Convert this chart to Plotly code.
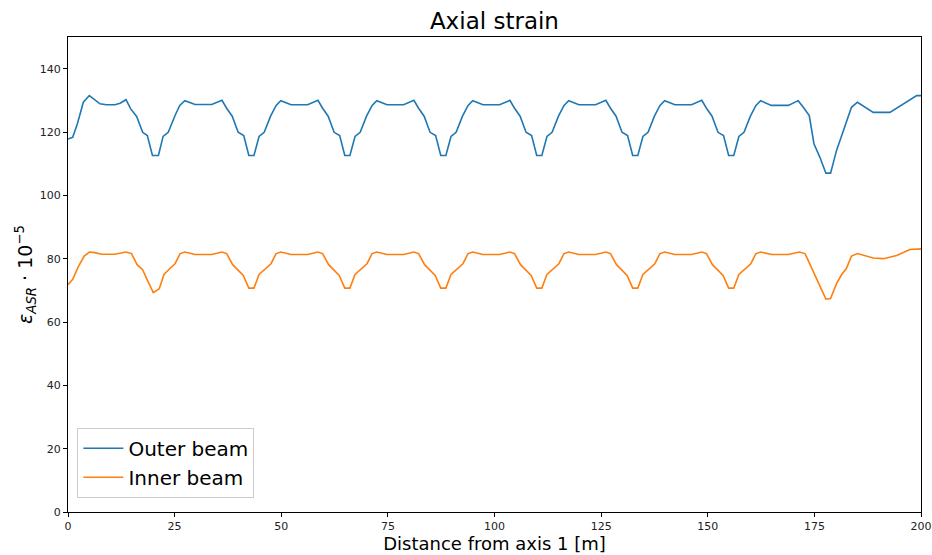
import plotly.graph_objects as go

outer_x = [0.0, 1.1, 2.2, 3.6, 5.0, 6.3, 7.5, 9.0, 11.0, 12.2, 13.6,
           14.7, 16.1, 17.5, 18.6, 19.8, 21.2, 22.3, 23.5, 25.1, 26.2, 27.4, 29.8, 33.7, 36.1,
           37.2, 38.5, 39.9, 41.2, 42.4, 43.6, 44.8, 46.0, 47.5, 48.8, 49.9, 52.3, 56.2, 58.6,
           59.7, 61.0, 62.4, 63.7, 64.9, 66.1, 67.3, 68.5, 70.0, 71.3, 72.4, 74.8, 78.7, 81.1,
           82.2, 83.5, 84.9, 86.2, 87.4, 88.6, 89.8, 91.0, 92.5, 93.8, 94.9, 97.3, 101.2, 103.6,
           104.7, 106.0, 107.4, 108.7, 109.9, 111.1, 112.3, 113.5, 115.0, 116.3, 117.4, 119.8, 123.7, 126.1,
           127.2, 128.5, 129.9, 131.2, 132.4, 133.6, 134.8, 136.0, 137.5, 138.8, 139.9, 142.3, 146.2, 148.6,
           149.7, 151.0, 152.4, 153.7, 154.9, 156.1, 157.3, 158.5, 160.0, 161.3, 162.4, 164.9, 168.9, 171.2,
           172.4, 173.8, 174.9, 176.3, 177.7, 178.8, 180.2, 181.8, 183.7, 185.1, 188.8, 192.7, 199.0, 200.0]
outer_y = [117.8, 118.3, 122.6, 129.4, 131.5, 130.1, 128.9, 128.6, 128.6, 129.1, 130.2,
           127.3, 124.9, 119.9, 118.9, 112.6, 112.6, 118.6, 119.9, 125.2, 128.4, 129.9, 128.7, 128.7, 130.0,
           127.5, 125.0, 119.9, 118.9, 112.6, 112.6, 118.6, 119.9, 125.0, 128.4, 129.9, 128.6, 128.6, 130.0,
           127.5, 125.0, 119.9, 118.9, 112.6, 112.6, 118.6, 119.9, 125.0, 128.4, 129.9, 128.6, 128.6, 130.0,
           127.5, 125.0, 119.9, 118.9, 112.6, 112.6, 118.6, 119.9, 125.0, 128.4, 129.9, 128.6, 128.6, 130.0,
           127.5, 125.0, 119.9, 118.9, 112.6, 112.6, 118.6, 119.9, 125.0, 128.4, 129.9, 128.6, 128.6, 130.0,
           127.5, 125.0, 119.9, 118.9, 112.6, 112.6, 118.6, 119.9, 125.0, 128.4, 129.9, 128.6, 128.6, 130.0,
           127.5, 125.0, 119.9, 118.9, 112.6, 112.6, 118.6, 119.9, 125.0, 128.4, 129.9, 128.4, 128.4, 129.9,
           127.8, 125.2, 116.3, 112.0, 107.0, 107.0, 114.2, 120.5, 127.8, 129.4, 126.2, 126.2, 131.5, 131.5]

inner_x = [0.0, 1.1, 2.4, 3.8, 5.0, 6.3, 7.9, 11.0, 13.6,
           14.9, 16.2, 17.5, 18.6, 20.0, 21.4, 22.5, 23.9, 25.1, 26.3, 27.4, 29.8, 33.7, 36.1,
           37.2, 38.6, 40.0, 41.1, 42.4, 43.6, 44.8, 45.9, 47.6, 48.8, 49.9, 52.3, 56.2, 58.6,
           59.7, 61.1, 62.5, 63.6, 64.9, 66.1, 67.3, 68.4, 70.1, 71.3, 72.4, 74.8, 78.7, 81.1,
           82.2, 83.6, 85.0, 86.1, 87.4, 88.6, 89.8, 90.9, 92.6, 93.8, 94.9, 97.3, 101.2, 103.6,
           104.7, 106.1, 107.5, 108.6, 109.9, 111.1, 112.3, 113.4, 115.1, 116.3, 117.4, 119.8, 123.7, 126.1,
           127.2, 128.6, 130.0, 131.1, 132.4, 133.6, 134.8, 135.9, 137.6, 138.8, 139.9, 142.3, 146.2, 148.6,
           149.7, 151.1, 152.5, 153.6, 154.9, 156.1, 157.3, 158.4, 160.1, 161.3, 162.4, 165.0, 168.9, 171.5,
           172.8, 174.0, 175.5, 176.7, 177.7, 178.8, 180.2, 181.4, 182.5, 183.7, 185.1, 188.8, 191.2, 194.3, 197.4, 200.0]
inner_y = [71.8, 73.5, 77.4, 80.8, 82.1, 81.9, 81.4, 81.4, 82.1,
           81.6, 78.1, 76.5, 73.2, 69.3, 70.5, 75.0, 76.9, 78.4, 81.6, 82.1, 81.3, 81.3, 82.1,
           81.6, 78.1, 76.3, 74.7, 70.7, 70.7, 75.0, 76.3, 78.4, 81.6, 82.1, 81.3, 81.3, 82.1,
           81.6, 78.1, 76.3, 74.7, 70.7, 70.7, 75.0, 76.3, 78.4, 81.6, 82.1, 81.3, 81.3, 82.1,
           81.6, 78.1, 76.3, 74.7, 70.7, 70.7, 75.0, 76.3, 78.4, 81.6, 82.1, 81.3, 81.3, 82.1,
           81.6, 78.1, 76.3, 74.7, 70.7, 70.7, 75.0, 76.3, 78.4, 81.6, 82.1, 81.3, 81.3, 82.1,
           81.6, 78.1, 76.3, 74.7, 70.7, 70.7, 75.0, 76.3, 78.4, 81.6, 82.1, 81.3, 81.3, 82.1,
           81.6, 78.1, 76.3, 74.7, 70.7, 70.7, 75.0, 76.3, 78.4, 81.6, 82.1, 81.3, 81.3, 82.1,
           81.6, 78.1, 73.7, 70.1, 67.2, 67.4, 72.1, 75.0, 76.9, 80.8, 81.6, 80.2, 80.0, 81.0, 82.9, 83.1]

x_ticks = [0, 25, 50, 75, 100, 125, 150, 175, 200]
y_ticks = [0, 20, 40, 60, 80, 100, 120, 140]

fig = go.Figure()
fig.add_trace(go.Scatter(x=outer_x, y=outer_y, mode="lines", name="Outer beam",
                         line=dict(color="#1f77b4", width=1.6)))
fig.add_trace(go.Scatter(x=inner_x, y=inner_y, mode="lines", name="Inner beam",
                         line=dict(color="#ff7f0e", width=1.6)))

axis_common = dict(showgrid=False, zeroline=False, showline=True, linecolor="black",
                   linewidth=1, mirror=True, ticks="outside", ticklen=4, tickcolor="black",
                   tickfont=dict(size=11, color="#222"), automargin=False)
fig.update_layout(
    width=932, height=555,
    margin=dict(l=68, r=11, t=37, b=43),
    paper_bgcolor="white", plot_bgcolor="white",
    font=dict(family="DejaVu Sans", color="black"),
    title=dict(text="Axial strain", x=0.5305, xanchor="center", y=0.962, yanchor="middle",
               font=dict(size=23, color="black")),
    xaxis=dict(range=[0, 200], tickvals=x_ticks, title=dict(text="Distance from axis 1 [m]",
               font=dict(size=18), standoff=4), **axis_common),
    yaxis=dict(range=[0, 150], tickvals=y_ticks,
               title=dict(text="<i>ε</i><sub><i>ASR</i></sub> · 10<sup>−5</sup>",
                          font=dict(size=19), standoff=2), **axis_common),
    legend=dict(x=0.011, y=0.03, xanchor="left", yanchor="bottom",
                bgcolor="rgba(255,255,255,0.8)", bordercolor="#cccccc", borderwidth=1,
                font=dict(size=20), itemwidth=40, tracegroupgap=4),
    showlegend=True,
)

fig.write_html("out.html")
